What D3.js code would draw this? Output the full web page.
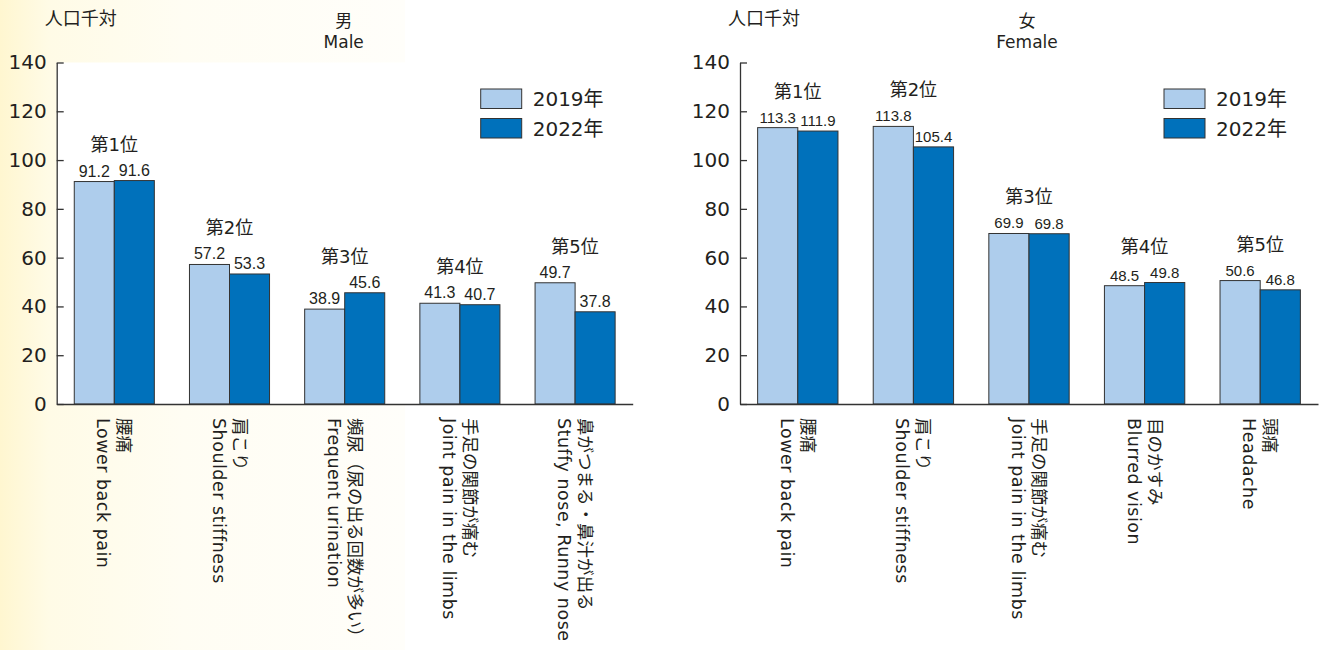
<!DOCTYPE html>
<html><head><meta charset="utf-8">
<script src="https://cdn.jsdelivr.net/npm/d3@7"></script>
<style>
body{margin:0;background:#fff;}
svg{display:block;}
text{fill:#231f20;}
</style>
</head><body>
<svg id="chart" width="1319" height="650" font-family="DejaVu Sans, Noto Sans CJK JP, sans-serif"></svg>
<script>
const years = ["2019年", "2022年"];
const rankLabels = ["第1位", "第2位", "第3位", "第4位", "第5位"];
const yTickValues = [0, 20, 40, 60, 80, 100, 120, 140];
const unitLabel = "人口千対";

const maleTitle = ["男", "Male"];
const maleCategoriesJa = ["腰痛", "肩こり", "頻尿（尿の出る回数が多い）", "手足の関節が痛む", "鼻がつまる・鼻汁が出る"];
const maleCategoriesEn = ["Lower back pain", "Shoulder stiffness", "Frequent urination", "Joint pain in the limbs", "Stuffy nose, Runny nose"];
const male2019 = [91.2, 57.2, 38.9, 41.3, 49.7];
const male2022 = [91.6, 53.3, 45.6, 40.7, 37.8];

const femaleTitle = ["女", "Female"];
const femaleCategoriesJa = ["腰痛", "肩こり", "手足の関節が痛む", "目のかすみ", "頭痛"];
const femaleCategoriesEn = ["Lower back pain", "Shoulder stiffness", "Joint pain in the limbs", "Blurred vision", "Headache"];
const female2019 = [113.3, 113.8, 69.9, 48.5, 50.6];
const female2022 = [111.9, 105.4, 69.8, 49.8, 46.8];

const colors = {"2019年": "#aecdec", "2022年": "#0071bb"};
const baseFont = "DejaVu Sans, Noto Sans CJK JP, sans-serif";
const numFont = "Liberation Sans, Arial, sans-serif";

const svg = d3.select("#chart");
const defs = svg.append("defs");
const grad = defs.append("linearGradient").attr("id", "bgGrad")
  .attr("x1", "0%").attr("x2", "100%").attr("y1", "0%").attr("y2", "0%");
grad.append("stop").attr("offset", "0%").attr("stop-color", "#fff6d0");
grad.append("stop").attr("offset", "12%").attr("stop-color", "#fffbe6");
grad.append("stop").attr("offset", "45%").attr("stop-color", "#fffdf3");
grad.append("stop").attr("offset", "100%").attr("stop-color", "#fffefa");
svg.append("rect").attr("x", 0).attr("y", 0).attr("width", 405).attr("height", 650).attr("fill", "url(#bgGrad)");

function panel(o) {
  const g = svg.append("g").style("font-family", baseFont);
  const y = d3.scaleLinear().domain([0, 140]).range([404, 62.5]);
  const x = d3.scaleBand().domain(d3.range(o.ja.length)).range([o.x0, o.x1])
    .paddingInner(0.305).paddingOuter(0.1525);
  const xs = d3.scaleBand().domain(years).range([0, x.bandwidth()]);

  if (o.whiteBg) {
    g.append("rect").attr("x", o.x0).attr("y", y(140)).attr("width", o.x1 - o.x0 + 8)
      .attr("height", y(0) - y(140)).attr("fill", "#fff");
  }

  // unit and title
  g.append("text").attr("x", o.x0 - 12).attr("y", 25).style("font-size", "18px").text(unitLabel);
  g.append("text").attr("x", o.x0 + 287).attr("y", 27).style("font-size", "17px")
    .attr("text-anchor", "middle").text(o.title[0]);
  g.append("text").attr("x", o.x0 + 287).attr("y", 48).style("font-size", "17px")
    .attr("text-anchor", "middle").text(o.title[1]);

  // y axis
  const ya = g.append("g").attr("transform", `translate(${o.x0},0)`)
    .call(d3.axisLeft(y).tickValues(yTickValues).tickSizeInner(-7).tickSizeOuter(0).tickPadding(10));
  ya.selectAll("path,line").attr("stroke", "#333").attr("stroke-width", 1.3);
  ya.selectAll("text").style("font-size", "20px").style("font-family", "DejaVu Sans").attr("fill", "#231f20");

  // bars
  const rows = o.ja.map((d, i) => ({i, vals: [{k: years[0], v: o.a[i]}, {k: years[1], v: o.b[i]}]}));
  const grp = g.selectAll("g.grp").data(rows).join("g").attr("class", "grp")
    .attr("transform", d => `translate(${x(d.i)},0)`);
  grp.selectAll("rect").data(d => d.vals).join("rect")
    .attr("x", d => xs(d.k)).attr("width", xs.bandwidth())
    .attr("y", d => y(d.v)).attr("height", d => y(0) - y(d.v))
    .attr("fill", d => colors[d.k]).attr("stroke", "#333").attr("stroke-width", 1);
  grp.selectAll("text.val").data(d => d.vals).join("text").attr("class", "val")
    .attr("x", d => xs(d.k) + xs.bandwidth() / 2).attr("y", d => y(d.v) - 5)
    .attr("text-anchor", "middle")
    .style("font-size", o.valSize + "px").style("font-family", numFont)
    .text(d => d.v.toFixed(1));
  grp.append("text").attr("x", x.bandwidth() / 2)
    .attr("y", d => y(Math.max(d.vals[0].v, d.vals[1].v)) - 30)
    .attr("text-anchor", "middle").style("font-size", "18px").text(d => rankLabels[d.i]);

  // x axis line
  const xa = g.append("g").attr("transform", `translate(0,${y(0)})`)
    .call(d3.axisBottom(x).tickSize(0).tickFormat(""));
  xa.select("path").attr("stroke", "#333").attr("stroke-width", 1.3);

  // category labels (rotated)
  const cl = g.selectAll("text.cat").data(rows).join("text").attr("class", "cat")
    .attr("transform", d => `translate(${x(d.i) + x.bandwidth() / 2},418) rotate(90)`)
    .style("font-size", "17.5px");
  cl.append("tspan").attr("x", 0).attr("y", -4).text(d => o.ja[d.i]);
  cl.append("tspan").attr("x", 0).attr("y", 17).style("letter-spacing", "0.5px")
    .text(d => o.en[d.i]);

  // legend
  const lg = g.append("g").attr("transform", `translate(${o.x0 + 424},89)`);
  years.forEach((k, j) => {
    lg.append("rect").attr("x", 0).attr("y", j * 29.5).attr("width", 41).attr("height", 19.5)
      .attr("fill", colors[k]).attr("stroke", "#333").attr("stroke-width", 1);
    lg.append("text").attr("x", 52).attr("y", j * 29.5 + 17).style("font-size", "20px").text(k);
  });
}

panel({x0: 56.7, x1: 632.7, title: maleTitle, ja: maleCategoriesJa, en: maleCategoriesEn, a: male2019, b: male2022, whiteBg: true, valSize: 16});
panel({x0: 740, x1: 1318, title: femaleTitle, ja: femaleCategoriesJa, en: femaleCategoriesEn, a: female2019, b: female2022, whiteBg: false, valSize: 15});
</script>
</body></html>
